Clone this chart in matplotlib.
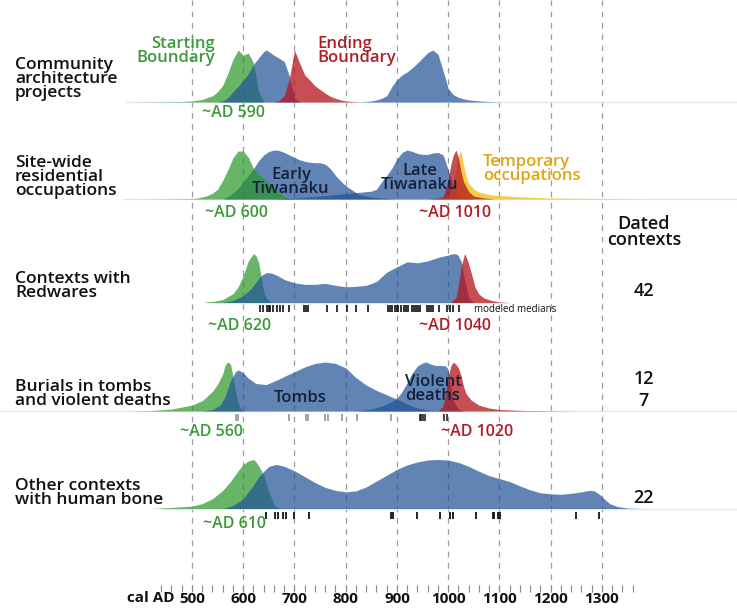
import matplotlib.pyplot as plt
import numpy as np
from matplotlib import font_manager

# ---- density curves: years + relative height (0..1) ----
# row 1: community architecture projects
arch_start_yr = [380, 440, 480, 500, 520, 540, 550, 560, 570, 580, 590, 600, 610, 620, 630, 640]
arch_start = [0, 0.005, 0.01, 0.02, 0.05, 0.12, 0.2, 0.32, 0.55, 0.82, 1.0, 0.9, 0.94, 0.75, 0.2, 0]
arch_early_yr = [550, 560, 570, 580, 590, 600, 610, 620, 630, 640, 645, 650, 660, 670, 680, 690, 700, 710]
arch_early = [0, 0.02, 0.08, 0.2, 0.3, 0.42, 0.55, 0.72, 0.85, 0.97, 1.0, 0.97, 0.9, 0.84, 0.78, 0.5, 0.08, 0]
arch_end_yr = [660, 670, 680, 690, 700, 710, 720, 730, 740, 750, 760, 770, 780, 790, 800, 820, 840]
arch_end = [0, 0.03, 0.12, 0.45, 1.0, 0.75, 0.52, 0.42, 0.31, 0.24, 0.17, 0.11, 0.07, 0.04, 0.02, 0.005, 0]
arch_late_yr = [830, 850, 860, 870, 880, 890, 900, 910, 920, 930, 940, 950, 960, 970, 980, 990,
                1000, 1010, 1020, 1030, 1040, 1060, 1080, 1100]
arch_late = [0, 0.02, 0.04, 0.07, 0.12, 0.3, 0.43, 0.52, 0.58, 0.66, 0.75, 0.85, 0.95, 1.0, 0.92, 0.6,
             0.26, 0.14, 0.09, 0.06, 0.04, 0.02, 0.01, 0]

# row 2: site-wide residential occupations
res_start_yr = [380, 440, 490, 500, 510, 520, 530, 540, 550, 560, 570, 580, 590, 600, 610, 620, 630,
                640, 650, 660, 670, 680, 690, 700]
res_start = [0, 0.003, 0.008, 0.01, 0.02, 0.04, 0.07, 0.12, 0.2, 0.38, 0.6, 0.84, 0.98, 0.98, 0.85,
             0.62, 0.5, 0.42, 0.33, 0.23, 0.13, 0.05, 0.01, 0]
res_early_yr = [560, 570, 580, 590, 600, 610, 620, 630, 640, 650, 660, 670, 680, 690, 700, 710, 720,
                730, 740, 750, 760, 770, 780, 790, 800, 810, 820, 830, 840, 850, 860, 880, 900]
res_early = [0, 0.05, 0.12, 0.22, 0.35, 0.48, 0.62, 0.78, 0.9, 0.97, 1.0, 0.99, 0.95, 0.9, 0.85, 0.8,
             0.77, 0.75, 0.74, 0.74, 0.71, 0.62, 0.48, 0.37, 0.27, 0.2, 0.13, 0.08, 0.06, 0.04, 0.03, 0.01, 0]
res_late_yr = [660, 700, 740, 780, 800, 820, 840, 850, 860, 870, 880, 890, 900, 910, 920, 930, 940, 950,
               960, 970, 980, 990, 1000, 1010, 1020, 1030, 1050]
res_late = [0, 0.02, 0.05, 0.09, 0.11, 0.13, 0.15, 0.16, 0.2, 0.35, 0.48, 0.63, 0.82, 0.95, 1.0, 0.97,
            0.93, 0.91, 0.91, 0.94, 0.95, 0.9, 0.6, 0.25, 0.08, 0.03, 0]
res_temp_yr = [980, 1000, 1010, 1018, 1024, 1030, 1035, 1040, 1050, 1060, 1080, 1100, 1150, 1200, 1300, 1400]
res_temp = [0, 0.05, 0.3, 0.8, 1.0, 0.7, 0.45, 0.32, 0.2, 0.14, 0.09, 0.07, 0.04, 0.02, 0.01, 0]
res_end_yr = [960, 980, 990, 995, 1000, 1005, 1010, 1015, 1020, 1025, 1030, 1040, 1050, 1070, 1090]
res_end = [0, 0.02, 0.05, 0.2, 0.4, 0.7, 0.9, 1.0, 0.85, 0.55, 0.35, 0.15, 0.06, 0.02, 0]

# row 3: contexts with redwares
red_start_yr = [520, 540, 560, 580, 590, 600, 610, 620, 625, 630, 635, 640, 645, 655]
red_start = [0, 0.02, 0.06, 0.18, 0.32, 0.55, 0.85, 1.0, 0.95, 0.82, 0.52, 0.22, 0.08, 0]
red_use_yr = [560, 580, 600, 615, 625, 635, 645, 655, 665, 680, 700, 720, 740, 760, 780, 800, 820, 840,
              860, 880, 900, 920, 940, 960, 980, 1000, 1010, 1018, 1025, 1032, 1040, 1050]
red_use = [0, 0.04, 0.14, 0.28, 0.42, 0.55, 0.61, 0.6, 0.56, 0.47, 0.4, 0.37, 0.37, 0.39, 0.35, 0.32,
           0.33, 0.35, 0.43, 0.62, 0.73, 0.83, 0.81, 0.85, 0.92, 0.97, 1.0, 0.98, 0.85, 0.45, 0.1, 0]
red_end_yr = [1005, 1015, 1020, 1025, 1032, 1038, 1045, 1052, 1060, 1070, 1085, 1100, 1120]
red_end = [0, 0.1, 0.35, 0.73, 1.0, 0.85, 0.6, 0.32, 0.17, 0.09, 0.04, 0.01, 0]
red_medians = [633, 639, 646, 652, 659, 665, 672, 678, 690, 718, 722, 726, 763, 782, 802, 821, 844,
               882, 886, 891, 896, 902, 914, 918, 922, 929, 933, 937, 941, 945, 959, 963, 970,
               982, 997, 1004, 1009, 1021, 650, 900, 908, 966]

# row 4: burials in tombs and violent deaths
bur_start_yr = [380, 420, 460, 500, 520, 540, 550, 560, 565, 570, 575, 580, 585, 590, 595, 600]
bur_start = [0, 0.01, 0.04, 0.12, 0.21, 0.4, 0.55, 0.76, 0.95, 1.0, 0.96, 0.7, 0.4, 0.16, 0.05, 0]
bur_tombs_yr = [520, 540, 555, 565, 575, 585, 590, 600, 610, 625, 645, 665, 685, 700, 720, 740, 760,
                780, 800, 820, 840, 860, 880, 900, 920, 940, 960, 980]
bur_tombs = [0, 0.03, 0.12, 0.3, 0.62, 0.8, 0.84, 0.78, 0.67, 0.56, 0.54, 0.63, 0.73, 0.8, 0.9, 0.97,
             1.0, 0.97, 0.88, 0.68, 0.53, 0.42, 0.33, 0.24, 0.14, 0.06, 0.02, 0]
bur_violent_yr = [820, 850, 870, 890, 900, 910, 920, 930, 940, 950, 957, 965, 975, 985, 995, 1000,
                  1005, 1010, 1020, 1030]
bur_violent = [0, 0.04, 0.1, 0.19, 0.26, 0.4, 0.58, 0.78, 0.92, 0.98, 1.0, 0.96, 0.93, 0.93, 0.92,
               0.85, 0.5, 0.2, 0.04, 0]
bur_end_yr = [980, 990, 995, 1000, 1005, 1010, 1015, 1020, 1025, 1030, 1035, 1045, 1060, 1080, 1100,
              1150, 1200, 1250]
bur_end = [0, 0.1, 0.35, 0.7, 0.92, 1.0, 0.95, 0.88, 0.72, 0.5, 0.35, 0.22, 0.12, 0.06, 0.03, 0.01, 0.005, 0]
tomb_medians = [585, 590, 689, 722, 726, 760, 765, 793, 822, 889]
violent_medians = [944, 947, 951, 955, 992, 998]

# row 5: other contexts with human bone
bone_start_yr = [420, 460, 500, 520, 540, 560, 575, 590, 600, 610, 620, 625, 630, 640, 650, 660, 670]
bone_start = [0, 0.02, 0.05, 0.1, 0.2, 0.37, 0.55, 0.77, 0.9, 0.97, 1.0, 0.95, 0.87, 0.68, 0.35, 0.08, 0]
bone_use_yr = [560, 580, 600, 620, 630, 640, 650, 665, 680, 700, 720, 740, 760, 780, 800, 820, 840, 860,
               880, 900, 920, 940, 960, 980, 1000, 1020, 1040, 1060, 1080, 1100, 1120, 1140, 1160,
               1180, 1200, 1220, 1240, 1260, 1275, 1285, 1295, 1305, 1315, 1330, 1350, 1380]
bone_use = [0, 0.06, 0.2, 0.48, 0.64, 0.76, 0.86, 0.9, 0.86, 0.77, 0.65, 0.53, 0.43, 0.37, 0.34, 0.36,
            0.44, 0.56, 0.68, 0.8, 0.89, 0.95, 0.99, 1.0, 0.99, 0.94, 0.86, 0.76, 0.67, 0.61, 0.55, 0.46,
            0.38, 0.32, 0.3, 0.29, 0.31, 0.34, 0.37, 0.36, 0.29, 0.19, 0.1, 0.04, 0.01, 0]
bone_medians = [644, 662, 667, 678, 683, 700, 729, 888, 893, 940, 983, 1003, 1009, 1054, 1087, 1090,
                1098, 1101, 1249, 1294]

row_labels = ['Community\narchitecture\nprojects', 'Site-wide\nresidential\noccupations',
              'Contexts with\nRedwares', 'Burials in tombs\nand violent deaths',
              'Other contexts\nwith human bone']
counts = ['42', '12\n7', '22']
major_years = [500, 600, 700, 800, 900, 1000, 1100, 1200, 1300]
minor_years = list(range(440, 1361, 20))

# ---- styling ----
have = {f.name for f in font_manager.fontManager.ttflist}
FONT = 'Open Sans' if 'Open Sans' in have else 'DejaVu Sans'
NARROW = 'Liberation Sans Narrow' if 'Liberation Sans Narrow' in have else FONT
plt.rcParams['font.family'] = [FONT, 'DejaVu Sans']

BLUE, GREEN, RED, YEL = '#1e5096', '#289628', '#b4141a', '#f5be1e'
T_GREEN, T_RED, T_YEL, NAVY = '#3a9a3a', '#b01e24', '#e0a414', '#14203a'

W, H = 737, 611
AXB = 592   # pixel row of the (invisible) x axis line
fig = plt.figure(figsize=(W / 100, H / 100), dpi=100)
ax = fig.add_axes([0, (H - AXB) / H, 1, AXB / H])
ax.set_xlim(125.4, 125.4 + W / 0.5125)
ax.set_ylim(AXB, 0)
for sp in ax.spines.values():
    sp.set_visible(False)
ax.yaxis.set_visible(False)
ax.patch.set_alpha(0)
ax.set_xticks(major_years, [str(y) for y in major_years])
ax.set_xticks(minor_years, minor=True)
ax.tick_params(axis='x', which='both', direction='in', length=5, width=0.8, color='#8a8a8a',
               pad=0, labelsize=11, labelcolor='#111111')
for lbl in ax.get_xticklabels():
    lbl.set_fontweight('bold')
    lbl.set_family(NARROW)

tx = fig.add_axes([0, 0, 1, 1], zorder=5)   # pixel space for text
tx.set_xlim(0, W)
tx.set_ylim(H, 0)
tx.axis('off')
tx.patch.set_alpha(0)

bases = [102, 199, 302.5, 411, 508.5]
scales = [52, 49, 49, 49, 49]


def ridge(yrs, dens, row, color, alpha=0.7, z=2):
    b = bases[row]
    ax.fill_between(yrs, b, b - scales[row] * np.array(dens), color=color, alpha=alpha, lw=0, zorder=z)


# dashed grid
ax.vlines(major_years, 0, 590, colors='#9c9c9c', lw=0.9, linestyles=(0, (4.5, 4.5)), zorder=1)

# baselines
for (x0, x1), b in zip([(370, 1563), (365, 1563), (530, 1120), (125, 1563), (440, 1563)], bases):
    ax.hlines(b, x0, x1, colors='#e2e7ee', lw=1, zorder=1)

ridge(arch_start_yr, arch_start, 0, GREEN)
ridge(arch_early_yr, arch_early, 0, BLUE)
ridge(arch_end_yr, arch_end, 0, RED, 0.75)
ridge(arch_late_yr, arch_late, 0, BLUE)

ridge(res_early_yr, res_early, 1, BLUE)
ridge(res_start_yr, res_start, 1, GREEN)
ridge(res_late_yr, res_late, 1, BLUE)
ridge(res_temp_yr, res_temp, 1, YEL, 0.8)
ridge(res_end_yr, res_end, 1, RED, 0.75)

ridge(red_start_yr, red_start, 2, GREEN)
ridge(red_use_yr, red_use, 2, BLUE)
ridge(red_end_yr, red_end, 2, RED, 0.75)

ridge(bur_start_yr, bur_start, 3, GREEN)
ridge(bur_tombs_yr, bur_tombs, 3, BLUE)
ridge(bur_violent_yr, bur_violent, 3, BLUE)
ridge(bur_end_yr, bur_end, 3, RED, 0.75)

ridge(bone_start_yr, bone_start, 4, GREEN)
ridge(bone_use_yr, bone_use, 4, BLUE)

# rugs of modelled medians
ax.vlines(red_medians, 305, 312, colors='#111111', lw=1.2, zorder=3)
ax.vlines(tomb_medians, 414, 421, colors='#8a8a8a', lw=1.1, zorder=3)
ax.vlines(violent_medians, 414, 421, colors='#111111', lw=1.1, zorder=3)
ax.vlines(bone_medians, 512, 519, colors='#111111', lw=1.3, zorder=3)

tx.text(175, 598.5, 'cal AD', ha='right', va='center', fontsize=11, fontweight='bold',
        family=NARROW, color='#111111')

# row labels
for lab, y in zip(row_labels, [79, 177, 286, 394, 493]):
    tx.text(15, y, lab, ha='left', va='center', fontsize=12.5, fontweight='semibold',
            linespacing=0.82, color='#111111')

tkw = dict(ha='center', va='center', fontweight='semibold', fontsize=12)
tx.text(215, 51, 'Starting\nBoundary', color=T_GREEN, ha='right', va='center', fontsize=12,
        fontweight='semibold', linespacing=0.78)
tx.text(317, 51, 'Ending\nBoundary', color=T_RED, ha='left', va='center', fontsize=12,
        fontweight='semibold', linespacing=0.78)
tx.text(483, 169, 'Temporary\noccupations', color=T_YEL, ha='left', va='center', fontsize=12,
        fontweight='semibold', linespacing=0.78)
tx.text(291, 182, 'Early\nTiwanaku', color=NAVY, linespacing=0.85, **tkw)
tx.text(420, 178, 'Late\nTiwanaku', color=NAVY, linespacing=0.85, **tkw)
tx.text(300, 398, 'Tombs', color=NAVY, **tkw)
tx.text(433, 389, 'Violent\ndeaths', color=NAVY, linespacing=0.8, **tkw)

for s, x, y, c in [('~AD 590', 234, 113, T_GREEN), ('~AD 600', 237, 213, T_GREEN),
                   ('~AD 1010', 455, 213, T_RED), ('~AD 620', 240, 326, T_GREEN),
                   ('~AD 1040', 455, 326, T_RED), ('~AD 560', 212, 432, T_GREEN),
                   ('~AD 1020', 477, 432, T_RED), ('~AD 610', 235, 524, T_GREEN)]:
    tx.text(x, y, s, color=c, ha='center', va='center', fontsize=11.5, fontweight='semibold')

tx.text(474, 309, 'modeled medians', ha='left', va='center', fontsize=7, family=NARROW, color='#111111')
tx.text(644, 232, 'Dated\ncontexts', ha='center', va='center', fontsize=13, fontweight='semibold',
        linespacing=0.9, color='#111111')
for s, y in zip(counts, [291, 390, 498]):
    tx.text(644, y, s, ha='center', va='center', fontsize=13, fontweight='semibold',
            linespacing=1.25, color='#111111')

fig.savefig('out.png', dpi=100)
